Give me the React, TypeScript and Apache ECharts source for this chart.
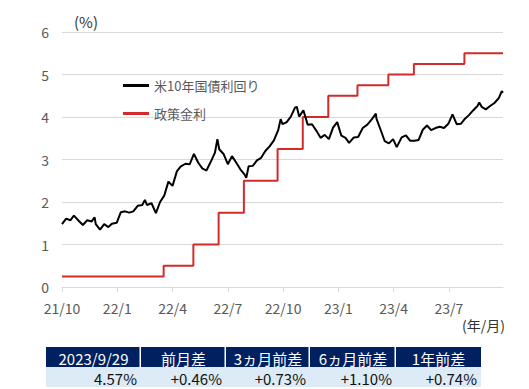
import React, { useEffect, useRef } from "react";
import * as echarts from "echarts";

const yieldDates = [
  "2021-10-01","2021-10-08","2021-10-15","2021-10-21","2021-10-29","2021-11-05","2021-11-12","2021-11-19","2021-11-24","2021-11-26",
  "2021-12-03","2021-12-10","2021-12-17","2021-12-23","2021-12-31","2022-01-07","2022-01-14","2022-01-21","2022-01-28","2022-02-04",
  "2022-02-11","2022-02-15","2022-02-18","2022-02-25","2022-03-04","2022-03-11","2022-03-18","2022-03-25","2022-04-01","2022-04-08",
  "2022-04-14","2022-04-22","2022-04-29","2022-05-06","2022-05-13","2022-05-20","2022-05-27","2022-06-03","2022-06-10","2022-06-14",
  "2022-06-17","2022-06-24","2022-07-01","2022-07-08","2022-07-15","2022-07-22","2022-07-29","2022-08-01","2022-08-05","2022-08-12",
  "2022-08-19","2022-08-26","2022-09-02","2022-09-09","2022-09-16","2022-09-23","2022-09-27","2022-09-30","2022-10-07","2022-10-14",
  "2022-10-21","2022-10-24","2022-10-28","2022-11-04","2022-11-11","2022-11-18","2022-11-25","2022-12-02","2022-12-09","2022-12-16",
  "2022-12-23","2022-12-30","2023-01-06","2023-01-13","2023-01-19","2023-01-27","2023-02-03","2023-02-10","2023-02-17","2023-02-24",
  "2023-03-02","2023-03-03","2023-03-10","2023-03-17","2023-03-24","2023-03-31","2023-04-06","2023-04-14","2023-04-21","2023-04-28",
  "2023-05-05","2023-05-12","2023-05-19","2023-05-26","2023-06-02","2023-06-09","2023-06-16","2023-06-23","2023-06-30","2023-07-07",
  "2023-07-14","2023-07-21","2023-07-28","2023-08-04","2023-08-11","2023-08-18","2023-08-21","2023-08-25","2023-09-01","2023-09-08",
  "2023-09-15","2023-09-22","2023-09-27","2023-09-29"
];
const yieldValues = [
  1.48,1.61,1.57,1.68,1.56,1.46,1.57,1.54,1.64,1.48,
  1.35,1.48,1.41,1.49,1.51,1.76,1.78,1.75,1.78,1.91,
  1.93,2.05,1.93,1.97,1.74,2.00,2.15,2.48,2.38,2.72,
  2.83,2.90,2.89,3.13,2.93,2.79,2.74,2.94,3.16,3.48,
  3.24,3.13,2.89,3.08,2.93,2.77,2.65,2.57,2.84,2.85,
  2.98,3.04,3.20,3.31,3.45,3.69,3.95,3.83,3.88,4.01,
  4.22,4.24,4.01,4.16,3.82,3.83,3.68,3.51,3.58,3.48,
  3.75,3.88,3.56,3.51,3.39,3.52,3.53,3.74,3.82,3.95,
  4.08,3.96,3.70,3.43,3.38,3.48,3.29,3.52,3.57,3.44,
  3.44,3.46,3.70,3.80,3.69,3.74,3.77,3.74,3.84,4.06,
  3.83,3.84,3.96,4.05,4.16,4.26,4.34,4.24,4.18,4.26,
  4.33,4.44,4.61,4.57
];

const policyDates = [
  "2021-10-01","2022-03-17","2022-05-05","2022-06-16","2022-07-28","2022-09-22","2022-11-03",
  "2022-12-15","2023-02-02","2023-03-23","2023-05-04","2023-07-27","2023-09-29"
];
const policyRates = [0.25, 0.5, 1.0, 1.75, 2.5, 3.25, 4.0, 4.5, 4.75, 5.0, 5.25, 5.5, 5.5];

const tickLabels = ["21/10","22/1","22/4","22/7","22/10","23/1","23/4","23/7"];

const seriesNames = ["米10年国債利回り", "政策金利"];
const tableHeaders = ["2023/9/29", "前月差", "3ヵ月前差", "6ヵ月前差", "1年前差"];
const tableValues = ["4.57%", "+0.46%", "+0.73%", "+1.10%", "+0.74%"];

const FONT = "'Noto Sans CJK JP', 'Noto Sans', sans-serif";
const START_YEAR = 2021, START_MONTH = 10;

// date string -> fractional months since 2021/10
function toMonths(s: string): number {
  const [y, m, d] = s.split("-").map(Number);
  const dim = new Date(y, m, 0).getDate();
  return (y - START_YEAR) * 12 + (m - START_MONTH) + (d - 1) / dim;
}

export default function App() {
  const ref = useRef<HTMLDivElement>(null);
  useEffect(() => {
    if (!ref.current) return;
    const chart = echarts.init(ref.current, undefined, { renderer: "svg" });

    const colBounds = [46, 141, 226, 310, 396, 481];
    const headTop = 347, rowH = 20;
    const tableGraphics: any[] = [];
    tableHeaders.forEach((h, i) => {
      const x0 = colBounds[i], x1 = colBounds[i + 1];
      tableGraphics.push({
        type: "rect",
        shape: { x: x0, y: headTop, width: x1 - x0 - (i < 4 ? 1.5 : 0), height: rowH },
        style: { fill: "#002060" },
      });
      tableGraphics.push({
        type: "rect",
        shape: { x: x0, y: headTop + rowH, width: x1 - x0, height: rowH },
        style: { fill: "#ddebf7" },
      });
      tableGraphics.push({
        type: "text",
        x: (x0 + x1) / 2,
        y: headTop + rowH / 2 + 1,
        style: { text: h, fill: "#ffffff", font: `15px ${FONT}`, align: "center", verticalAlign: "middle" },
      });
      tableGraphics.push({
        type: "text",
        x: x1 - 4,
        y: headTop + rowH * 1.5 + 1,
        style: { text: tableValues[i], fill: "#111111", font: `15px ${FONT}`, align: "right", verticalAlign: "middle" },
      });
    });

    chart.setOption({
      animation: false,
      textStyle: { fontFamily: FONT },
      grid: { left: 62, right: 26, top: 32, bottom: 102, containLabel: false },
      legend: {
        orient: "vertical",
        left: 118,
        top: 74,
        itemGap: 15,
        itemWidth: 26,
        itemHeight: 3,
        icon: "rect",
        textStyle: { fontSize: 13, color: "#595959", fontFamily: FONT },
        data: seriesNames,
      },
      xAxis: {
        type: "value",
        min: 0,
        max: toMonths("2023-09-29"),
        interval: 3,
        axisLine: { show: true, lineStyle: { color: "#d9d9d9", width: 1 } },
        axisTick: { show: true, length: 5, lineStyle: { color: "#d9d9d9" } },
        axisLabel: {
          color: "#595959",
          fontSize: 14,
          margin: 14,
          fontFamily: FONT,
          showMaxLabel: false,
          formatter: (v: number) => tickLabels[Math.round(v / 3)] ?? "",
        },
        splitLine: { show: false },
      },
      yAxis: {
        type: "value",
        min: 0,
        max: 6,
        interval: 1,
        axisLine: { show: false },
        axisTick: { show: false },
        axisLabel: { color: "#595959", fontSize: 14, margin: 13, fontFamily: FONT },
        splitLine: { lineStyle: { color: "#d9d9d9", width: 1 } },
      },
      series: [
        {
          name: seriesNames[0],
          type: "line",
          showSymbol: false,
          symbol: "none",
          color: "#000000",
          lineStyle: { color: "#000000", width: 2 },
          data: yieldDates.map((d, i) => [toMonths(d), yieldValues[i]]),
          z: 3,
        },
        {
          name: seriesNames[1],
          type: "line",
          step: "end",
          showSymbol: false,
          symbol: "none",
          color: "#d42a2a",
          lineStyle: { color: "#d42a2a", width: 2 },
          data: policyDates.map((d, i) => [toMonths(d), policyRates[i]]),
          z: 2,
        },
      ],
      graphic: [
        {
          type: "text",
          left: 74,
          top: 14,
          style: { text: "(%)", fill: "#333333", font: `15px ${FONT}` },
        },
        {
          type: "text",
          left: 462,
          top: 318,
          style: { text: "(年/月)", fill: "#333333", font: `14px ${FONT}` },
        },
        ...tableGraphics,
      ],
    });
    return () => chart.dispose();
  }, []);
  return <div ref={ref} style={{ width: 529, height: 389, position: "absolute", left: 0, top: 0 }} />;
}
